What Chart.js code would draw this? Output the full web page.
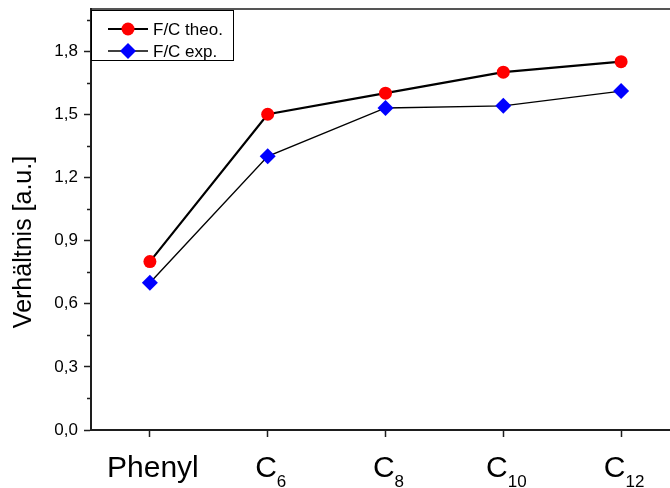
<!DOCTYPE html>
<html>
<head>
<meta charset="utf-8">
<script src="https://cdn.jsdelivr.net/npm/chart.js@4/dist/chart.umd.min.js"></script>
<style>
  html, body { margin: 0; padding: 0; background: #fff; overflow: hidden; }
  #wrap { width: 670px; height: 488px; overflow: hidden; position: relative; }
  canvas { display: block; }
</style>
</head>
<body>
<div id="wrap"><canvas id="c" width="690" height="488"></canvas></div>
<script>
// Samples on the x axis (base text + subscript)
const categories = ['Phenyl', 'C6', 'C8', 'C10', 'C12'];
const labelBase = ['Phenyl', 'C', 'C', 'C', 'C'];
const labelSub = ['', '6', '8', '10', '12'];

// F/C ratios
const theoValues = [0.80, 1.50, 1.60, 1.70, 1.75];
const expValues = [0.70, 1.30, 1.53, 1.54, 1.61];

// Y axis ticks
const yTickValues = [0.0, 0.3, 0.6, 0.9, 1.2, 1.5, 1.8];
const yMinorValues = [0.15, 0.45, 0.75, 1.05, 1.35, 1.65, 1.95];
const yMin = 0.0;
const yMax = 2.0;

const seriesNames = ['F/C theo.', 'F/C exp.'];
const yTitle = 'Verhältnis [a.u.]';

const FONT = "'Liberation Sans', Arial, Helvetica, sans-serif";
const AXIS = '#1e1e1e';

Chart.defaults.font.family = FONT;
Chart.defaults.color = '#000';

function drawMarker(ctx, style, r, x, y, color) {
  ctx.fillStyle = color;
  ctx.beginPath();
  if (style === 'circle') {
    ctx.arc(x, y, r, 0, Math.PI * 2);
  } else {
    ctx.moveTo(x, y - r);
    ctx.lineTo(x + r, y);
    ctx.lineTo(x, y + r);
    ctx.lineTo(x - r, y);
    ctx.closePath();
  }
  ctx.fill();
}

const decor = {
  id: 'decor',
  afterDraw(chart) {
    const { ctx, chartArea: a, scales: { x, y } } = chart;
    ctx.save();

    // frame: top and right edges
    ctx.strokeStyle = AXIS;
    ctx.lineWidth = 1.5;
    ctx.beginPath();
    ctx.moveTo(a.left, a.top);
    ctx.lineTo(a.right, a.top);
    ctx.lineTo(a.right, a.bottom);
    ctx.stroke();

    // minor ticks on the value axis
    ctx.lineWidth = 1.5;
    ctx.beginPath();
    yMinorValues.forEach(v => {
      const py = Math.round(y.getPixelForValue(v)) + 0.5;
      ctx.moveTo(a.left, py);
      ctx.lineTo(a.left - 4, py);
    });
    ctx.stroke();

    // category labels with subscripts
    ctx.fillStyle = '#000';
    ctx.textBaseline = 'alphabetic';
    ctx.textAlign = 'left';
    categories.forEach((c, i) => {
      const px = x.getPixelForValue(i);
      ctx.font = '30px ' + FONT;
      const wb = ctx.measureText(labelBase[i]).width;
      ctx.font = '17px ' + FONT;
      const ws = labelSub[i] ? ctx.measureText(labelSub[i]).width : 0;
      const start = px - (wb + ws) / 2 + 3;
      ctx.font = '30px ' + FONT;
      ctx.fillText(labelBase[i], start, 477);
      if (labelSub[i]) {
        ctx.font = '17px ' + FONT;
        ctx.fillText(labelSub[i], start + wb, 487);
      }
    });

    // value axis title
    ctx.save();
    ctx.translate(24, 242);
    ctx.rotate(-Math.PI / 2);
    ctx.font = '25px ' + FONT;
    ctx.textAlign = 'center';
    ctx.textBaseline = 'middle';
    ctx.fillText(yTitle, 0, 0);
    ctx.restore();

    // legend box
    const bx = a.left + 0.5, by = 10.5, bw = 142, bh = 50;
    ctx.fillStyle = '#fff';
    ctx.fillRect(bx, by, bw, bh);
    ctx.strokeStyle = '#000';
    ctx.lineWidth = 1;
    ctx.strokeRect(bx, by, bw, bh);

    const rows = [29, 51];
    chart.data.datasets.forEach((ds, i) => {
      const ry = rows[i];
      ctx.strokeStyle = ds.borderColor;
      ctx.lineWidth = ds.borderWidth;
      ctx.beginPath();
      ctx.moveTo(108, ry);
      ctx.lineTo(148, ry);
      ctx.stroke();
      drawMarker(ctx, ds.pointStyle, ds.pointRadius, 128, ry, ds.pointBackgroundColor);
      ctx.fillStyle = '#000';
      ctx.font = '17px ' + FONT;
      ctx.textAlign = 'left';
      ctx.textBaseline = 'middle';
      ctx.fillText(ds.label, 153, ry + 1);
    });

    ctx.restore();
  }
};

new Chart(document.getElementById('c'), {
  type: 'line',
  data: {
    labels: categories,
    datasets: [
      {
        label: seriesNames[0],
        data: theoValues,
        borderColor: '#000',
        borderWidth: 2.2,
        pointStyle: 'circle',
        pointRadius: 6.5,
        pointBackgroundColor: '#ff0000',
        pointBorderColor: '#ff0000',
        pointBorderWidth: 0,
        tension: 0
      },
      {
        label: seriesNames[1],
        data: expValues,
        borderColor: '#000',
        borderWidth: 1.4,
        pointStyle: 'rectRot',
        pointRadius: 8,
        pointBackgroundColor: '#0000ff',
        pointBorderColor: '#0000ff',
        pointBorderWidth: 0,
        tension: 0
      }
    ]
  },
  options: {
    responsive: false,
    animation: false,
    events: [],
    layout: { padding: { top: 9, right: 10, left: 0, bottom: 0 } },
    plugins: {
      legend: { display: false },
      tooltip: { enabled: false },
      title: { display: false }
    },
    scales: {
      x: {
        type: 'category',
        offset: true,
        border: { display: true, color: AXIS, width: 2 },
        grid: {
          display: true,
          drawOnChartArea: false,
          drawTicks: true,
          tickLength: 7,
          tickColor: AXIS,
          tickWidth: 1.5,
          offset: false
        },
        ticks: { display: false },
        afterFit(s) {
          s.height = 58;
          s.paddingLeft = 0; s.paddingRight = 0;
        }
      },
      y: {
        type: 'linear',
        min: yMin,
        max: yMax,
        border: { display: true, color: AXIS, width: 2 },
        grid: {
          display: true,
          drawOnChartArea: false,
          drawTicks: true,
          tickLength: 7,
          tickColor: AXIS,
          tickWidth: 1.5
        },
        afterBuildTicks(s) { s.ticks = yTickValues.map(v => ({ value: v })); },
        ticks: {
          padding: 6,
          font: { size: 17 },
          color: '#000',
          callback: v => Number(v).toFixed(1).replace('.', ',')
        },
        afterFit(s) {
          s.width = 91;
          s.paddingTop = 0; s.paddingBottom = 0;
        }
      }
    }
  },
  plugins: [decor]
});
</script>
</body>
</html>
